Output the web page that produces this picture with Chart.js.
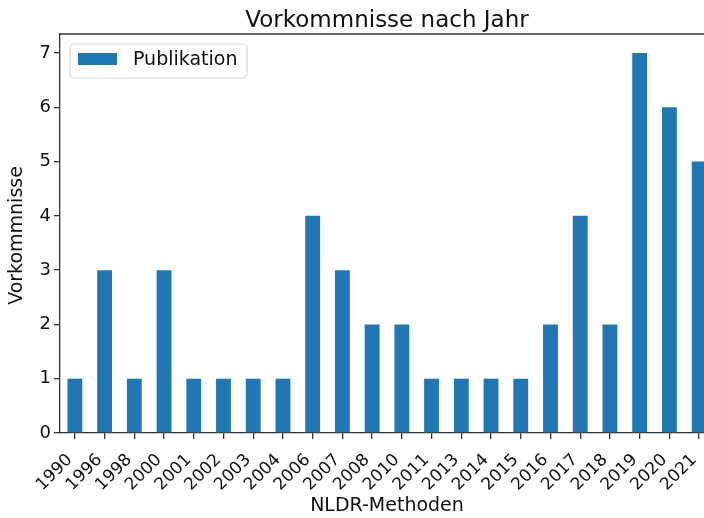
<!DOCTYPE html>
<html><head><meta charset="utf-8">
<script src="https://cdn.jsdelivr.net/npm/chart.js@4/dist/chart.umd.min.js"></script>
<style>html,body{margin:0;padding:0;overflow:hidden;background:#fff}#wrap{width:714px;height:518px;position:relative}</style>
</head><body><div id="wrap"><canvas id="c" width="714" height="518"></canvas></div>
<script>
const years = ['1990','1996','1998','2000','2001','2002','2003','2004','2006','2007','2008','2010','2011','2013','2014','2015','2016','2017','2018','2019','2020','2021'];
const counts = [1,3,1,3,1,1,1,1,4,3,2,2,1,1,1,1,2,4,2,7,6,5];
const yTicks = [0,1,2,3,4,5,6,7];
const seriesName = 'Publikation';
const chartTitle = 'Vorkommnisse nach Jahr';
const xTitle = 'NLDR-Methoden';
const yTitle = 'Vorkommnisse';

const FONT = '"DejaVu Sans", sans-serif';
const AX = '#333';

const decor = {
  id: 'decor',
  afterDraw(chart) {
    const ctx = chart.ctx, a = chart.chartArea;
    ctx.save();
    // top and right spines
    ctx.strokeStyle = AX; ctx.lineWidth = 1.3;
    ctx.beginPath();
    ctx.moveTo(a.left, a.top); ctx.lineTo(a.right, a.top); ctx.lineTo(a.right, a.bottom);
    ctx.stroke();
    // title
    ctx.fillStyle = '#111';
    ctx.font = '23px ' + FONT;
    ctx.textAlign = 'center'; ctx.textBaseline = 'alphabetic';
    ctx.fillText(chartTitle, (a.left + a.right) / 2, 27);
    // x title
    ctx.font = '19px ' + FONT;
    ctx.textBaseline = 'middle';
    ctx.fillText(xTitle, (a.left + a.right) / 2, 506);
    // y title
    ctx.save();
    ctx.translate(17, (a.top + a.bottom) / 2 + 2);
    ctx.rotate(-Math.PI / 2);
    ctx.fillText(yTitle, 0, 0);
    ctx.restore();
    // legend
    const lx = 70, ly = 44, lw = 177, lh = 34, r = 4;
    ctx.fillStyle = 'rgba(255,255,255,0.8)';
    ctx.strokeStyle = '#d6d6d6'; ctx.lineWidth = 1.2;
    ctx.beginPath();
    ctx.moveTo(lx + r, ly); ctx.lineTo(lx + lw - r, ly); ctx.arcTo(lx + lw, ly, lx + lw, ly + r, r);
    ctx.lineTo(lx + lw, ly + lh - r); ctx.arcTo(lx + lw, ly + lh, lx + lw - r, ly + lh, r);
    ctx.lineTo(lx + r, ly + lh); ctx.arcTo(lx, ly + lh, lx, ly + lh - r, r);
    ctx.lineTo(lx, ly + r); ctx.arcTo(lx, ly, lx + r, ly, r);
    ctx.closePath(); ctx.fill(); ctx.stroke();
    ctx.fillStyle = chart.data.datasets[0].backgroundColor;
    ctx.fillRect(78, 53, 39, 12);
    ctx.fillStyle = '#111';
    ctx.font = '19px ' + FONT;
    ctx.textAlign = 'left'; ctx.textBaseline = 'middle';
    ctx.fillText(chart.data.datasets[0].label, 133, 60);
    ctx.restore();
  }
};

new Chart(document.getElementById('c'), {
  type: 'bar',
  data: {
    labels: years,
    datasets: [{
      label: seriesName,
      data: counts,
      backgroundColor: '#1f77b4',
      borderWidth: 0,
      barPercentage: 0.5,
      categoryPercentage: 1.0
    }]
  },
  options: {
    responsive: false,
    animation: false,
    devicePixelRatio: 1,
    layout: { padding: { top: 34, right: 0, left: 0, bottom: 0 } },
    plugins: { legend: { display: false }, title: { display: false }, tooltip: { enabled: false } },
    scales: {
      x: {
        type: 'category',
        offset: true,
        grid: { display: true, offset: false, drawOnChartArea: false, drawTicks: true, tickLength: 6, color: AX, lineWidth: 1.3 },
        border: { display: true, color: AX, width: 1.3 },
        ticks: { font: { family: FONT, size: 17 }, color: '#111', minRotation: 45, maxRotation: 45, autoSkip: false, padding: 11, labelOffset: -5 },
        afterFit: s => { s.height = 85; s.paddingLeft = 0; s.paddingRight = 0; }
      },
      y: {
        min: 0, max: 7.35,
        grid: { display: true, drawOnChartArea: false, drawTicks: true, tickLength: 6, color: AX, lineWidth: 1.3 },
        border: { display: true, color: AX, width: 1.3 },
        ticks: { font: { family: FONT, size: 18 }, color: '#111', padding: 3 },
        afterBuildTicks: s => { s.ticks = yTicks.map(v => ({ value: v })); },
        afterFit: s => { s.width = 60; }
      }
    }
  },
  plugins: [decor]
});
</script>
</body></html>
